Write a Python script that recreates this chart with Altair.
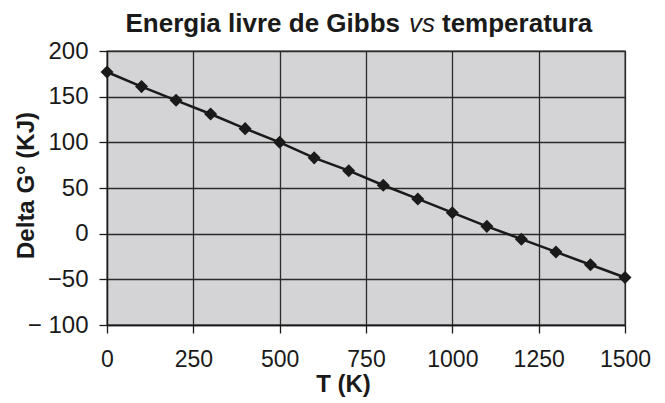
import altair as alt
import pandas as pd

# Data
temps = [0, 100, 200, 300, 400, 500, 600, 700, 800, 900, 1000, 1100, 1200, 1300, 1400, 1500]
delta_g = [177, 161, 146, 131, 115, 100, 83, 69, 53, 38, 23, 8, -6, -20, -34, -48]

x_ticks = [0, 250, 500, 750, 1000, 1250, 1500]
y_ticks = [-100, -50, 0, 50, 100, 150, 200]
y_tick_labels = ["\u2212 100", "\u221250", "0", "50", "100", "150", "200"]

title_parts = ["Energia livre de Gibbs", "vs", "temperatura"]
x_title = "T (K)"
y_title = "Delta G\u00b0 (KJ)"

FONT = "Liberation Sans"
INK = "#1a1a1a"

df = pd.DataFrame({"T": temps, "G": delta_g})

label_expr = " : ".join(
    f"datum.value == {v} ? '{lab}'" for v, lab in zip(y_ticks, y_tick_labels)
) + " : datum.label"

x_enc = alt.X(
    "T:Q",
    scale=alt.Scale(domain=[0, 1500], nice=False),
    axis=alt.Axis(
        values=x_ticks,
        format="d",
        title=x_title,
        titleFont=FONT, titleFontSize=24, titleFontWeight="bold", titleColor=INK,
        titleX=236, titleY=66, titleBaseline="alphabetic",
        labelFont=FONT, labelFontSize=23, labelColor=INK, labelPadding=15,
        tickSize=8, tickColor=INK, tickWidth=1.3,
        domainColor=INK, domainWidth=1.3,
        grid=True, gridColor="#2b2b2b", gridWidth=1.3,
        labelFlush=False,
    ),
)
y_enc = alt.Y(
    "G:Q",
    scale=alt.Scale(domain=[-100, 200], nice=False),
    axis=alt.Axis(
        values=y_ticks,
        labelExpr=label_expr,
        title=y_title,
        titleFont=FONT, titleFontSize=24, titleFontWeight="bold", titleColor=INK,
        titleX=-74, titleY=134, titleBaseline="alphabetic",
        labelFont=FONT, labelFontSize=24, labelColor=INK, labelPadding=11,
        tickSize=8, tickColor=INK, tickWidth=1.3,
        domainColor=INK, domainWidth=1.3,
        grid=True, gridColor="#2b2b2b", gridWidth=1.3,
        labelFlush=False,
    ),
)

base = alt.Chart(df).encode(x=x_enc, y=y_enc)
line = base.mark_line(color=INK, strokeWidth=2.5)
pts = base.mark_point(shape="diamond", filled=True, size=170, color=INK, opacity=1)

t1 = alt.Chart(pd.DataFrame({"t": [title_parts[0]]})).mark_text(
    font=FONT, fontSize=26, fontWeight="bold", align="right", baseline="alphabetic", color=INK
).encode(text="t:N", x=alt.value(293), y=alt.value(-19))
t2 = alt.Chart(pd.DataFrame({"t": [title_parts[1]]})).mark_text(
    font=FONT, fontSize=26, fontStyle="italic", align="left", baseline="alphabetic", color=INK
).encode(text="t:N", x=alt.value(302), y=alt.value(-19))
t3 = alt.Chart(pd.DataFrame({"t": [title_parts[2]]})).mark_text(
    font=FONT, fontSize=26, fontWeight="bold", align="left", baseline="alphabetic", color=INK
).encode(text="t:N", x=alt.value(335), y=alt.value(-19))

chart = alt.layer(line, pts, t1, t2, t3).properties(
    width=518,
    height=274,
    padding={"left": 99, "top": 43, "right": 30, "bottom": 76},
    autosize=alt.AutoSizeParams(type="none"),
    background="white",
).configure_view(fill="#d4d4d6", stroke="#2b2b2b", strokeWidth=1.3)

chart.save("out.html", embed_options={"renderer": "svg", "actions": False})
